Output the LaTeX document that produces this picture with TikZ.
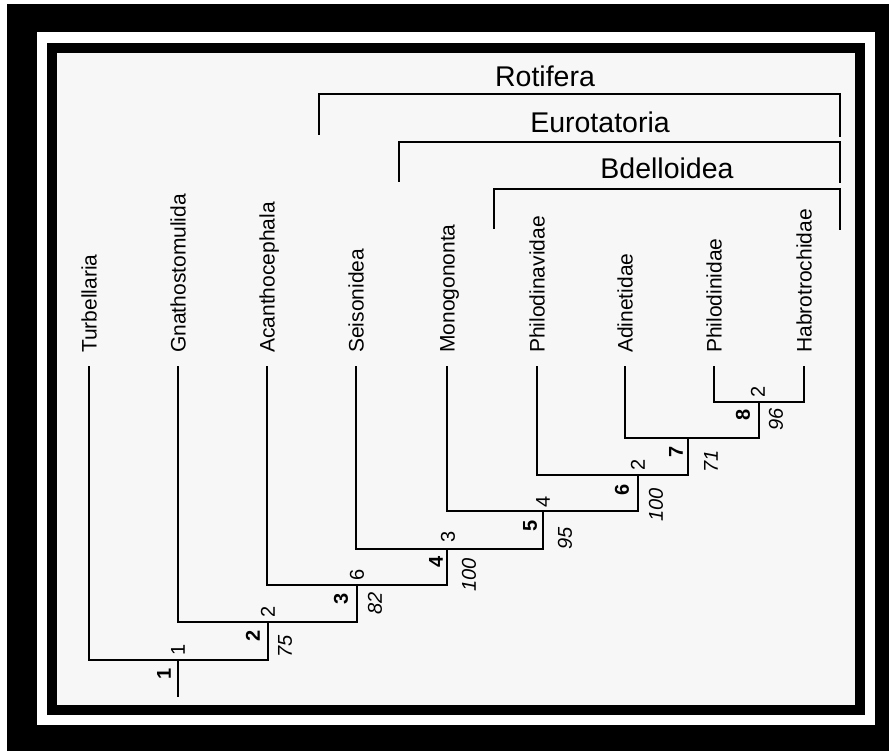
\documentclass[tikz,border=0pt]{standalone}
\usepackage{fontspec}
\setmainfont{Liberation Sans}
\begin{document}
\begin{tikzpicture}[x=1pt,y=-1pt,
  tree/.style={line width=2pt, line join=miter},
  leaf/.style={rotate=90, anchor=base west, font=\fontsize{21}{25}\selectfont, inner sep=0pt},
  clade/.style={anchor=base, font=\fontsize{28.5}{32}\selectfont, inner sep=0pt},
  bnum/.style={rotate=90, font=\fontsize{20}{24}\selectfont\bfseries, inner sep=0pt},
  pnum/.style={rotate=90, font=\fontsize{20}{24}\selectfont, inner sep=0pt},
  inum/.style={rotate=90, font=\fontsize{20}{24}\selectfont\itshape, inner sep=0pt}]
% frame
\fill[white] (0,0) rectangle (889,751);
\fill[black] (7,4) rectangle (889,751);
\fill[white] (37,32) rectangle (875,725);
\fill[black] (47,43) rectangle (865,715);
\fill[white!97!black] (57,53) rectangle (855,705);
\useasboundingbox (0,0) rectangle (889,751);

% leaf tips
\coordinate (tTur) at (89,366);
\coordinate (tGna) at (178,366);
\coordinate (tAca) at (267,366);
\coordinate (tSei) at (356,366);
\coordinate (tMon) at (447,366);
\coordinate (tPhv) at (537,366);
\coordinate (tAdi) at (625,366);
\coordinate (tPhi) at (714,366);
\coordinate (tHab) at (804,366);
% internal nodes
\coordinate (n8) at (759,402);
\coordinate (n7) at (688,438);
\coordinate (n6) at (638,475);
\coordinate (n5) at (543,511);
\coordinate (n4) at (447,549);
\coordinate (n3) at (357,585);
\coordinate (n2) at (268,622);
\coordinate (n1) at (178,660);
\coordinate (root) at (178,697);

% leaf labels
\node[leaf] (lTur) at (96.5,353) {Turbellaria};
\node[leaf] (lGna) at (185.5,353) {Gnathostomulida};
\node[leaf] (lAca) at (274.5,353) {Acanthocephala};
\node[leaf] (lSei) at (363.5,353) {Seisonidea};
\node[leaf] (lMon) at (454.5,353) {Monogononta};
\node[leaf] (lPhv) at (544.5,353) {Philodinavidae};
\node[leaf] (lAdi) at (632.5,353) {Adinetidae};
\node[leaf] (lPhi) at (721.5,353) {Philodinidae};
\node[leaf] (lHab) at (811.5,353) {Habrotrochidae};

% tree
\draw[tree] (tPhi) |- (n8) -| (tHab);
\draw[tree] (tAdi) |- (n7) -| (n8);
\draw[tree] (tPhv) |- (n6) -| (n7);
\draw[tree] (tMon) |- (n5) -| (n6);
\draw[tree] (tSei) |- (n4) -| (n5);
\draw[tree] (tAca) |- (n3) -| (n4);
\draw[tree] (tGna) |- (n2) -| (n3);
\draw[tree] (tTur) |- (n1) -| (n2);
\draw[tree] (n1) -- (root);

% clade brackets
\coordinate (rA) at (319,135); \coordinate (rB) at (840,94); \coordinate (rC) at (840,137);
\coordinate (eA) at (399,182); \coordinate (eB) at (840,142); \coordinate (eC) at (840,183);
\coordinate (bA) at (494,229); \coordinate (bB) at (840,189); \coordinate (bC) at (840,230);
\draw[tree] (rA) |- (rB) -- (rC);
\draw[tree] (eA) |- (eB) -- (eC);
\draw[tree] (bA) |- (bB) -- (bC);
\node[clade] (cRot) at (545,87) {Rotifera};
\node[clade] (cEur) at (600,133) {Eurotatoria};
\node[clade] (cBde) at (667,179) {Bdelloidea};

% node numbers
\node[bnum] (b1) at (164,674) {1};
\node[pnum] (p1) at (178,650) {1};
\node[bnum] (b2) at (253,636) {2};
\node[pnum] (p2) at (268,612) {2};
\node[inum] (i2) at (285,646) {75};
\node[bnum] (b3) at (341,599) {3};
\node[pnum] (p3) at (357,575) {6};
\node[inum] (i3) at (375,603) {82};
\node[bnum] (b4) at (436,562) {4};
\node[pnum] (p4) at (448,537) {3};
\node[inum] (i4) at (469,575) {100};
\node[bnum] (b5) at (530,526) {5};
\node[pnum] (p5) at (543,502) {4};
\node[inum] (i5) at (565,538) {95};
\node[bnum] (b6) at (622,490) {6};
\node[pnum] (p6) at (638,465) {2};
\node[inum] (i6) at (656,505) {100};
\node[bnum] (b7) at (676,452) {7};
\node[inum] (i7) at (711,461) {71};
\node[bnum] (b8) at (743,415) {8};
\node[pnum] (p8) at (758,392) {2};
\node[inum] (i8) at (776,419) {96};
\end{tikzpicture}
\end{document}
